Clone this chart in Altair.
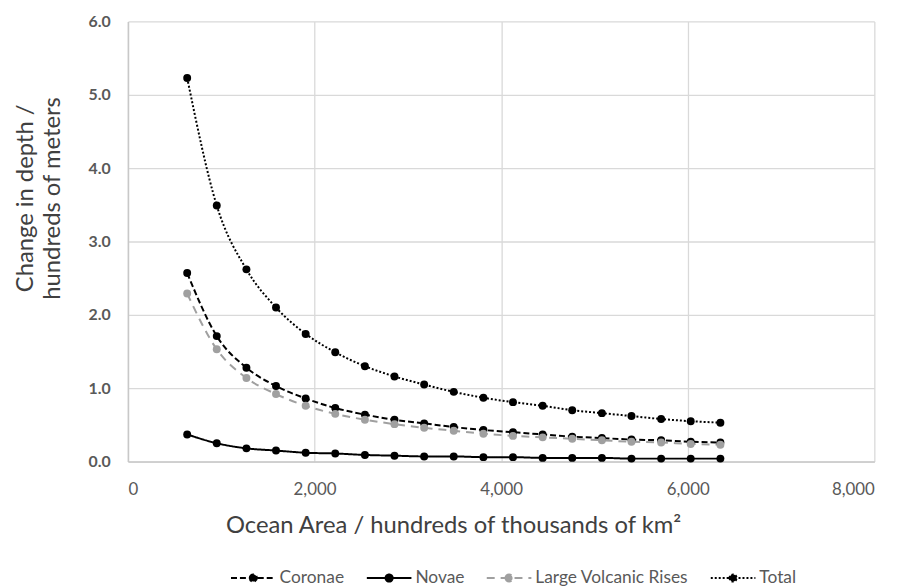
import altair as alt
import pandas as pd

# Ocean area (hundreds of thousands of km²)
area = [635, 952, 1270, 1587, 1905, 2222, 2540, 2857, 3175, 3492,
        3810, 4127, 4445, 4762, 5080, 5397, 5715, 6032, 6350]

# Change in depth (hundreds of meters)
coronae = [2.57, 1.71, 1.28, 1.03, 0.86, 0.73, 0.64, 0.57, 0.52, 0.47,
           0.43, 0.40, 0.37, 0.34, 0.32, 0.30, 0.29, 0.27, 0.26]
novae = [0.37, 0.25, 0.18, 0.15, 0.12, 0.11, 0.09, 0.08, 0.07, 0.07,
         0.06, 0.06, 0.05, 0.05, 0.05, 0.04, 0.04, 0.04, 0.04]
lvr = [2.29, 1.53, 1.14, 0.92, 0.76, 0.65, 0.57, 0.51, 0.46, 0.42,
       0.38, 0.35, 0.33, 0.31, 0.29, 0.27, 0.26, 0.24, 0.23]
total = [5.23, 3.49, 2.62, 2.10, 1.74, 1.49, 1.30, 1.16, 1.05, 0.95,
         0.87, 0.81, 0.76, 0.70, 0.66, 0.62, 0.58, 0.55, 0.53]

series_names = ["Coronae", "Novae", "Large Volcanic Rises", "Total"]
series_values = [coronae, novae, lvr, total]
series_colors = ["#000000", "#000000", "#a0a0a0", "#000000"]
series_dashes = [[6, 3], [1, 0], [8, 6], [2, 2]]

rows = []
for i, (name, vals) in enumerate(zip(series_names, series_values)):
    for x, y in zip(area, vals):
        rows.append({"series": name, "order": i, "area": x, "depth": y})
df = pd.DataFrame(rows)

FONT = "Lato"
TEXT = "#595959"

sym_path = ("M-1,0L1,0M-0.16,0A0.16,0.16,0,1,1,0.16,0"
            "A0.16,0.16,0,1,1,-0.16,0Z")

legend_def = dict(
    orient="none",
    legendX=103,
    legendY=538,
    direction="horizontal",
    title=None,
    symbolType=sym_path,
    symbolSize=2025,
    symbolStrokeWidth=2,
    labelFontSize=17.5,
    labelColor=TEXT,
    labelFont=FONT,
    labelOffset=3,
    columnPadding=18,
)

x_enc = alt.X(
    "area:Q",
    scale=alt.Scale(domain=[0, 8000], nice=False),
    axis=alt.Axis(
        values=[0, 2000, 4000, 6000, 8000],
        format=",d",
        title="Ocean Area / hundreds of thousands of km²",
        labelFontSize=17,
        labelColor=TEXT,
        labelPadding=20,
        titleFontSize=24,
        titleFontWeight="normal",
        titleColor="#404040",
        titleX=328,
        titleY=72,
        titleBaseline="alphabetic",
        grid=True,
        ticks=False,
    ),
)
y_enc = alt.Y(
    "depth:Q",
    scale=alt.Scale(domain=[0, 6], nice=False),
    axis=alt.Axis(
        values=[0, 1, 2, 3, 4, 5, 6],
        format=".1f",
        title=["Change in depth /", "hundreds of meters"],
        labelFontSize=16,
        labelFontWeight="bold",
        labelColor=TEXT,
        labelPadding=18,
        titleFontSize=24,
        titleFontWeight="normal",
        titleColor="#404040",
        titleX=-96,
        titleY=178,
        titleBaseline="alphabetic",
        titleLineHeight=27,
        grid=True,
        ticks=False,
    ),
)

lines = alt.Chart(df).mark_line(strokeWidth=2, interpolate="monotone").encode(
    x=x_enc,
    y=y_enc,
    stroke=alt.Stroke("series:N",
                      scale=alt.Scale(domain=series_names, range=series_colors),
                      legend=alt.Legend(**legend_def)),
    strokeDash=alt.StrokeDash("series:N",
                              scale=alt.Scale(domain=series_names, range=series_dashes),
                              legend=alt.Legend(**legend_def)),
    order="order:Q",
)

points = alt.Chart(df).mark_point(filled=True, size=64, opacity=1).encode(
    x="area:Q",
    y="depth:Q",
    fill=alt.Fill("series:N",
                  scale=alt.Scale(domain=series_names, range=series_colors),
                  legend=alt.Legend(**legend_def)),
)

chart = alt.layer(lines, points).properties(
    width=753,
    height=444,
    padding={"left": 121, "top": 11, "right": 38, "bottom": 125},
    autosize=alt.AutoSizeParams(type="none"),
).configure(
    font=FONT,
).configure_axis(
    gridColor="#d9d9d9",
    gridWidth=1.3,
    domainColor="#c8c8c8",
    domainWidth=1.5,
    labelFont=FONT,
    titleFont=FONT,
).configure_view(
    stroke=None,
)

chart.save("out.html", embed_options={"renderer": "svg", "actions": False})
